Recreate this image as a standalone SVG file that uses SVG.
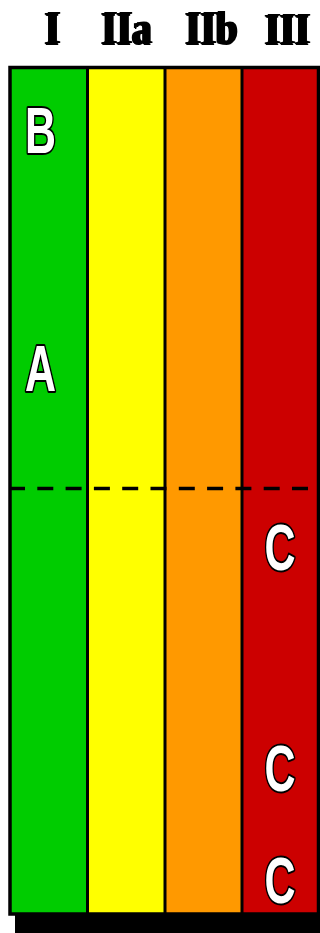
<svg xmlns="http://www.w3.org/2000/svg" width="320" height="933" viewBox="0 0 320 933">
<defs>
<filter id="hsh" x="-0.25" y="-0.1" width="1.3" height="1.25">
<feOffset in="SourceAlpha" dx="-2" dy="2" result="o1"/>
<feOffset in="SourceAlpha" dx="-3" dy="1" result="o2"/>
<feMerge><feMergeNode in="o1"/><feMergeNode in="o2"/><feMergeNode in="SourceGraphic"/></feMerge>
</filter>
</defs>
<style>
.hdr{font-family:"Liberation Serif","DejaVu Serif",serif;font-weight:bold;font-size:46px;text-anchor:middle;fill:#000;filter:url(#hsh)}
.lt{font-family:"Liberation Sans",Arial,sans-serif;font-weight:bold;font-size:64px;text-anchor:middle;fill:#fff;stroke:#000;stroke-width:4;paint-order:stroke;stroke-linejoin:round}
</style>
<rect x="0" y="0" width="320" height="933" fill="#fff"/>
<g id="shadow"><rect x="15" y="912" width="305" height="21" fill="#000"/></g>
<g id="col-I"><rect x="10" y="67" width="78" height="846" fill="#00CC00"/></g>
<g id="col-IIa"><rect x="87" y="67" width="78" height="846" fill="#FFFF00"/></g>
<g id="col-IIb"><rect x="165" y="67" width="77" height="846" fill="#FF9900"/></g>
<g id="col-III"><rect x="242" y="67" width="77" height="846" fill="#CC0000"/></g>
<g id="frame" fill="none" stroke="#000">
<rect x="10" y="67.5" width="308.5" height="846.5" stroke-width="3.5"/>
<line x1="87.5" y1="67" x2="87.5" y2="914" stroke-width="3"/>
<line x1="165" y1="67" x2="165" y2="914" stroke-width="3"/>
<line x1="242" y1="67" x2="242" y2="914" stroke-width="3"/>
</g>
<g id="connectors">
<line x1="9" y1="488.5" x2="318" y2="488.5" stroke="#000" stroke-width="3.5" stroke-dasharray="16 12.3"/>
</g>
<g id="headers">
<text class="hdr" x="54" y="43" textLength="15" lengthAdjust="spacingAndGlyphs">I</text>
<text class="hdr" x="128" y="43" textLength="50" lengthAdjust="spacingAndGlyphs">IIa</text>
<text class="hdr" x="213" y="43" textLength="52" lengthAdjust="spacingAndGlyphs">IIb</text>
<text class="hdr" x="289" y="43" textLength="45" lengthAdjust="spacingAndGlyphs" style="font-size:44px">III</text>
</g>
<g id="label-B"><text class="lt" x="40.5" y="153" textLength="31" lengthAdjust="spacingAndGlyphs">B</text></g>
<g id="label-A"><text class="lt" x="40.5" y="391" textLength="31" lengthAdjust="spacingAndGlyphs">A</text></g>
<g id="label-C1"><text class="lt" x="280" y="570" textLength="31" lengthAdjust="spacingAndGlyphs">C</text></g>
<g id="label-C2"><text class="lt" x="280" y="791" textLength="31" lengthAdjust="spacingAndGlyphs">C</text></g>
<g id="label-C3"><text class="lt" x="280" y="903" textLength="31" lengthAdjust="spacingAndGlyphs">C</text></g>
</svg>
